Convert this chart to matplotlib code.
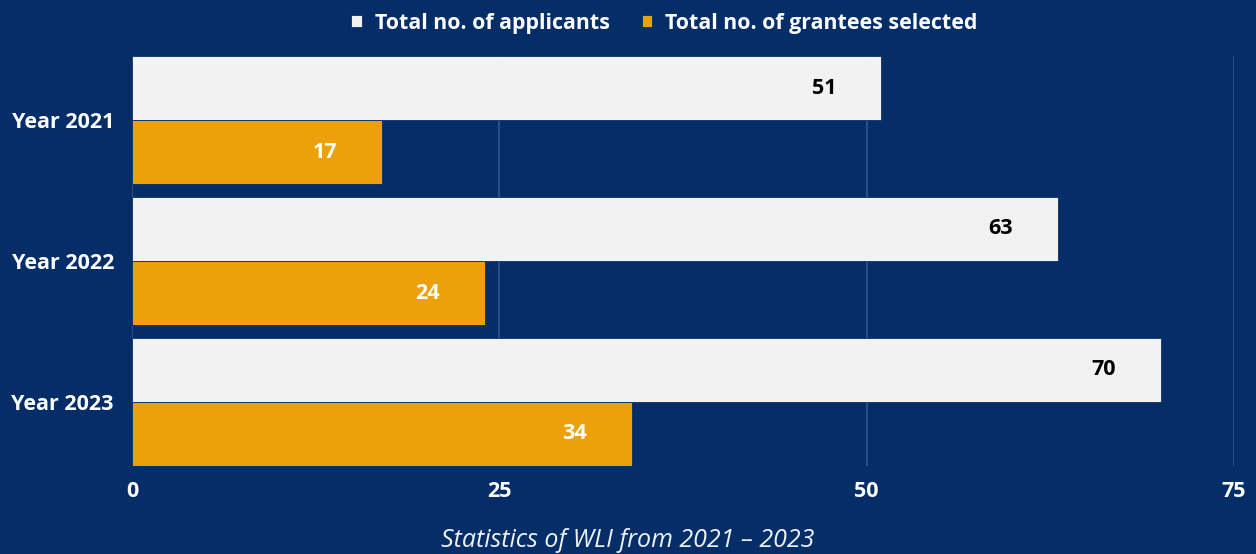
import numpy as np
import matplotlib.pyplot as plt

# data
years = ['Year 2021', 'Year 2022', 'Year 2023']
applicants = [51, 63, 70]
grantees = [17, 24, 34]
x_ticks = [0, 25, 50, 75]

bg = '#052e69'
white_bar = '#f2f2f2'
orange_bar = '#eba00c'
grid_col = '#2c4f86'

plt.rcParams['font.family'] = ['Open Sans', 'DejaVu Sans']

fig = plt.figure(figsize=(12.56, 5.54), dpi=100, facecolor=bg)
ax = fig.add_axes([0.1051, 0.1588, 0.8774, 0.7401])
ax.set_facecolor(bg)

y = np.arange(len(years))
h = 0.455
b1 = ax.barh(y - h / 2, applicants, height=h, color=white_bar,
             edgecolor=bg, linewidth=0.6, label='Total no. of applicants', zorder=3)
b2 = ax.barh(y + h / 2, grantees, height=h, color=orange_bar,
             edgecolor=bg, linewidth=0.6, label='Total no. of grantees selected', zorder=3)

# value labels inside the bar ends
for bars, col in ((b1, 'black'), (b2, 'white')):
    for r in bars:
        ax.annotate(f'{r.get_width():.0f}', (r.get_width(), r.get_y() + r.get_height() / 2),
                    xytext=(-32, 0), textcoords='offset points', ha='right', va='center',
                    fontsize=15.5, fontweight='bold', color=col, zorder=4)

ax.set_xlim(0, 75)
ax.set_ylim(2 + h, -h)
ax.set_xticks(x_ticks)
ax.set_yticks(y)
ax.set_yticklabels(years)
ax.tick_params(axis='both', length=0, colors='white', labelsize=15.5)
ax.tick_params(axis='x', pad=11)
ax.tick_params(axis='y', pad=13)
for lab in ax.get_xticklabels() + ax.get_yticklabels():
    lab.set_fontweight('bold')

ax.grid(axis='x', color=grid_col, linewidth=1.4, zorder=0)
for s in ax.spines.values():
    s.set_visible(False)
ax.axvline(0, color=grid_col, linewidth=1.4, zorder=1)

fig.legend(handles=[b1, b2], loc='center', bbox_to_anchor=(0.529, 0.958), ncol=2,
           frameon=False, handlelength=0.5, handleheight=0.5, handletextpad=0.6,
           columnspacing=1.5, prop={'weight': 'bold', 'size': 15.4}, labelcolor='white')

fig.text(0.5, 0.025, 'Statistics of WLI from 2021 \u2013 2023', ha='center', va='center',
         fontsize=18, fontstyle='italic', color='#eef1f6')

fig.savefig('out.png', dpi=100, facecolor=bg)
